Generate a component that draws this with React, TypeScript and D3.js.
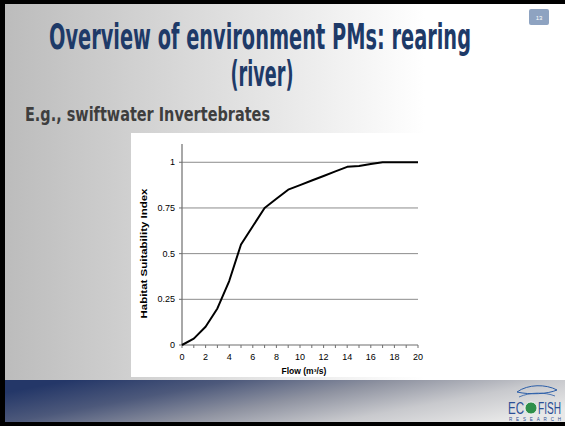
import React from 'react';
import * as d3 from 'd3';

// habitat suitability curve
const flow = [0, 1, 2, 3, 4, 5, 6, 7, 8, 9, 10, 11, 12, 13, 14, 15, 16, 17, 18, 19, 20];
const hsi = [0, 0.035, 0.1, 0.2, 0.35, 0.55, 0.65, 0.75, 0.8, 0.85, 0.875, 0.9, 0.925, 0.95, 0.975, 0.98, 0.99, 1, 1, 1, 1];
const yTicks = [0, 0.25, 0.5, 0.75, 1];
const xLabels = [0, 2, 4, 6, 8, 10, 12, 14, 16, 18, 20];

const titleLines = ['Overview of environment PMs: rearing', '(river)'];
const subtitle = 'E.g., swiftwater Invertebrates';
const slideNo = '13';

const W = 565, H = 426;
const plot = { left: 182, right: 418, top: 144, bottom: 345 };

export default function App() {
  const x = d3.scaleLinear().domain([0, 20]).range([plot.left, plot.right]);
  const y = d3.scaleLinear().domain([0, 1.1]).range([plot.bottom, plot.top]);

  const line = d3.line<number>()
    .x((d, i) => x(flow[i]))
    .y(d => y(d));

  const fontAxis = '"Liberation Sans", Arial, sans-serif';
  const fontTitle = '"Liberation Sans Narrow", "DejaVu Sans Condensed", sans-serif';

  return (
    <svg width={W} height={H} style={{ position: 'absolute', left: 0, top: 0 }}>
      <defs>
        <linearGradient id="bg" x1="0" y1="0" x2="1" y2="0">
          <stop offset="0" stopColor="#bcbcbc" />
          <stop offset="0.45" stopColor="#e4e4e4" />
          <stop offset="0.75" stopColor="#ffffff" />
          <stop offset="1" stopColor="#ffffff" />
        </linearGradient>
        <linearGradient id="band" x1="0" y1="0.3" x2="1" y2="0.7">
          <stop offset="0" stopColor="#243768" />
          <stop offset="0.25" stopColor="#4d597b" />
          <stop offset="0.5" stopColor="#8f93a1" />
          <stop offset="0.75" stopColor="#c8c9cd" />
          <stop offset="1" stopColor="#e8e8e8" />
        </linearGradient>
      </defs>

      {/* slide */}
      <rect x={0} y={0} width={W} height={H} fill="#000" />
      <rect x={5} y={4} width={W - 5} height={H - 8} fill="url(#bg)" />
      <rect x={5} y={380} width={W - 5} height={42} fill="url(#band)" />

      {/* slide number */}
      <rect x={529} y={9} width={20} height={16} rx={2} fill="#8ea3c1" />
      <text x={539} y={19.5} fontSize={6} fill="#fff" textAnchor="middle" fontFamily={fontAxis}>{slideNo}</text>

      {/* title */}
      <text x={260} y={49} fontSize={35} fontWeight="bold" fill="#1e3a68" textAnchor="middle"
        fontFamily={fontTitle} textLength={422} lengthAdjust="spacingAndGlyphs">{titleLines[0]}</text>
      <text x={262} y={86} fontSize={35} fontWeight="bold" fill="#1e3a68" textAnchor="middle"
        fontFamily={fontTitle} textLength={63} lengthAdjust="spacingAndGlyphs">{titleLines[1]}</text>

      <text x={25} y={121} fontSize={19} fontWeight="bold" fill="#3e3e3e"
        fontFamily={fontTitle} textLength={245} lengthAdjust="spacingAndGlyphs">{subtitle}</text>

      {/* chart area */}
      <rect x={131} y={133} width={299} height={244} fill="#fff" />

      {yTicks.filter(t => t > 0).map(t => (
        <line key={'g' + t} x1={plot.left} x2={plot.right} y1={y(t)} y2={y(t)} stroke="#8c8c8c" strokeWidth={1} />
      ))}

      {/* y axis */}
      <line x1={plot.left} x2={plot.left} y1={plot.top} y2={plot.bottom} stroke="#6e6e6e" strokeWidth={1.2} />
      {yTicks.map(t => (
        <g key={'y' + t}>
          <line x1={plot.left - 3} x2={plot.left} y1={y(t)} y2={y(t)} stroke="#6e6e6e" />
          <text x={plot.left - 7} y={y(t) + 3} fontSize={9} textAnchor="end" fill="#000" fontFamily={fontAxis}>
            {d3.format('')(t)}
          </text>
        </g>
      ))}

      {/* x axis */}
      <line x1={plot.left} x2={plot.right} y1={plot.bottom} y2={plot.bottom} stroke="#6e6e6e" strokeWidth={1.2} />
      {flow.map(f => (
        <line key={'xt' + f} x1={x(f)} x2={x(f)} y1={plot.bottom} y2={plot.bottom + 3} stroke="#6e6e6e" />
      ))}
      {xLabels.map(f => (
        <text key={'xl' + f} x={x(f)} y={plot.bottom + 15} fontSize={9} textAnchor="middle" fill="#000" fontFamily={fontAxis}>
          {f}
        </text>
      ))}

      <path d={line(hsi) || ''} fill="none" stroke="#000" strokeWidth={2} strokeLinejoin="round" />

      <text x={(plot.left + plot.right) / 2 + 4} y={374} fontSize={8.5} fontWeight="bold" textAnchor="middle" fontFamily={fontAxis}>
        Flow (m³/s)
      </text>
      <text transform={`translate(147,${(plot.top + plot.bottom) / 2 + 9}) rotate(-90)`} fontSize={9.5} fontWeight="bold"
        textAnchor="middle" fontFamily={fontAxis} textLength={130} lengthAdjust="spacingAndGlyphs">
        Habitat Suitability Index
      </text>

      {/* logo */}
      <g>
        <path d="M517,392 C528,384 546,384 557,390 C548,394 530,395 517,392 Z" fill="none" stroke="#2a5da8" strokeWidth={1} />
        <path d="M519,397 C530,392 545,392 555,396" fill="none" stroke="#2a5da8" strokeWidth={0.8} />
        <text x={508} y={414} fontSize={16} fill="#2b4f96" fontFamily={fontAxis} textLength={16} lengthAdjust="spacingAndGlyphs">EC</text>
        <circle cx={531} cy={408} r={6} fill="#2f8f4a" stroke="#fff" strokeWidth={0.8} />
        <text x={538} y={414} fontSize={16} fill="#2b4f96" fontFamily={fontAxis} textLength={23} lengthAdjust="spacingAndGlyphs">FISH</text>
        <text x={509} y={420.5} fontSize={4.5} fill="#2b4f96" fontFamily={fontAxis} textLength={52} lengthAdjust="spacing">RESEARCH</text>
      </g>
    </svg>
  );
}
